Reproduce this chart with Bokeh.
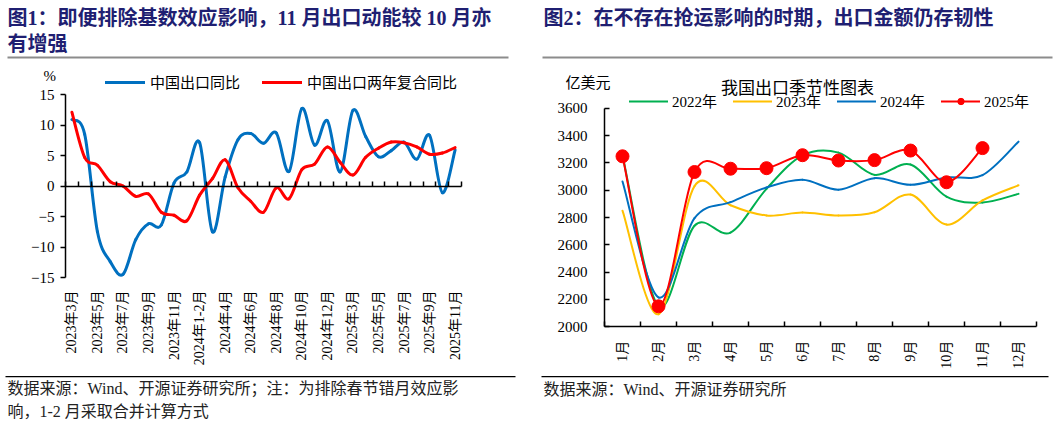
import math
import numpy as np
from bokeh.plotting import figure
from bokeh.models import (Range1d, FixedTicker, LinearAxis, Legend, LegendItem,
                          Label, BoxAnnotation, ColumnDataSource)
from bokeh.layouts import row
from bokeh.embed import file_html
from bokeh.resources import INLINE

# ---------------- data: figure 1 ----------------
months_1 = ["2023年3月", "2023年4月", "2023年5月", "2023年6月", "2023年7月", "2023年8月",
            "2023年9月", "2023年10月", "2023年11月", "2023年12月", "2024年1-2月", "2024年3月",
            "2024年4月", "2024年5月", "2024年6月", "2024年7月", "2024年8月", "2024年9月",
            "2024年10月", "2024年11月", "2024年12月", "2025年1-2月", "2025年3月", "2025年4月",
            "2025年5月", "2025年6月", "2025年7月", "2025年8月", "2025年9月", "2025年10月",
            "2025年11月"]
export_yoy = [10.9, 8.5, -7.5, -12.4, -14.5, -8.8, -6.2, -6.4, 0.5, 2.3, 7.1, -7.5,
              1.5, 7.6, 8.6, 7.0, 8.7, 2.4, 12.7, 6.7, 10.7, 2.3, 12.4, 8.1,
              4.8, 5.8, 7.2, 4.4, 8.3, -1.1, 5.9]
export_2y = [12.1, 4.7, 3.4, 0.7, 0.0, -1.7, -1.3, -4.3, -4.8, -5.7, -1.5, 1.2,
             4.3, -0.3, -2.5, -4.3, -0.3, -2.1, 2.7, 3.6, 6.4, 3.9, 1.8, 4.7,
             6.2, 7.2, 7.1, 6.4, 5.2, 5.4, 6.3]
series_1 = ["中国出口同比", "中国出口两年复合同比"]
y_ticks_1 = [-15, -10, -5, 0, 5, 10, 15]

# ---------------- data: figure 2 ----------------
months_2 = ["1月", "2月", "3月", "4月", "5月", "6月", "7月", "8月", "9月", "10月", "11月", "12月"]
exp_2022 = [3255, 2150, 2740, 2690, 3010, 3255, 3275, 3112, 3188, 2952, 2910, 2973]
exp_2023 = [2850, 2092, 3030, 2890, 2815, 2836, 2814, 2838, 2968, 2748, 2925, 3036]
exp_2024 = [3063, 2215, 2795, 2912, 3020, 3076, 3004, 3088, 3039, 3093, 3110, 3355]
exp_2025 = [3248, 2150, 3133, 3157, 3161, 3256, 3217, 3220, 3290, 3058, 3308]
series_2 = ["2022年", "2023年", "2024年", "2025年"]
y_ticks_2 = [2000, 2200, 2400, 2600, 2800, 3000, 3200, 3400, 3600]

# ---------------- styles / layout ----------------
SERIF = "'Liberation Serif', 'Noto Sans CJK SC'"
CJK = "'Noto Sans CJK SC'"
TITLE_COLOR = "#1f1f72"
BLUE, RED, GREEN, YELLOW = "#0070C0", "#FF0000", "#00B050", "#FFC000"
H = 426
W1, W2 = 530, 527
# plot areas in pixels inside each canvas (left, right, top, bottom)
AREA1 = (65, 461, 94, 277)
AREA2 = (74, 506, 107.7, 326.3)


def span_range(lo, hi, p_lo, p_hi, size, flip=False):
    """Extend a data range so that [lo, hi] lands on pixels [p_lo, p_hi] of a canvas of `size`."""
    k = (hi - lo) / (p_hi - p_lo)
    if flip:  # vertical: pixel grows downward, value grows upward
        return Range1d(lo - (size - p_hi) * k, hi + p_lo * k)
    return Range1d(lo - p_lo * k, hi + (size - p_hi) * k)


def smooth(xs, ys):
    """Catmull-Rom style cubic Bezier control points (spreadsheet-like smoothed line)."""
    xs = np.asarray(xs, float)
    ys = np.asarray(ys, float)
    n = len(xs)
    xp = np.concatenate([[xs[0]], xs, [xs[-1]]])
    yp = np.concatenate([[ys[0]], ys, [ys[-1]]])
    return dict(
        x0=xs[:-1], y0=ys[:-1], x1=xs[1:], y1=ys[1:],
        cx0=xs[:-1] + (xp[2:n + 1] - xp[0:n - 1]) / 6.0,
        cy0=ys[:-1] + (yp[2:n + 1] - yp[0:n - 1]) / 6.0,
        cx1=xs[1:] - (xp[3:n + 2] - xp[1:n]) / 6.0,
        cy1=ys[1:] - (yp[3:n + 2] - yp[1:n]) / 6.0,
    )


def bez(p, xs, ys, color, width):
    src = ColumnDataSource(smooth(xs, ys))
    return p.bezier(x0="x0", y0="y0", x1="x1", y1="y1", cx0="cx0", cy0="cy0",
                    cx1="cx1", cy1="cy1", source=src, line_color=color,
                    line_width=width, line_cap="round", line_join="round")


def text_at(p, text, x, y, size, font, color="#222222", bold=False, align="left"):
    # x, y: pixels from the top-left corner of this canvas (screen units are bottom-up)
    p.add_layout(Label(x=x, y=H - y, x_units="screen", y_units="screen", text=text,
                       text_font=font, text_font_size=size, text_color=color,
                       text_font_style="bold" if bold else "normal",
                       text_align=align, text_baseline="middle"))


def rule_at(p, left, right, top, bottom, color):
    p.add_layout(BoxAnnotation(left=left, right=right, top=H - top, bottom=H - bottom,
                               left_units="screen", right_units="screen",
                               top_units="screen", bottom_units="screen",
                               fill_color=color, fill_alpha=1.0, line_color=None,
                               line_alpha=0))


def base_fig(width, x_range, y_range):
    p = figure(width=width, height=H, output_backend="svg", toolbar_location=None,
               x_range=x_range, y_range=y_range, x_axis_location=None, y_axis_location=None,
               min_border=0, min_border_left=0, min_border_right=0,
               min_border_top=0, min_border_bottom=0)
    p.title.visible = False
    p.outline_line_color = None
    p.grid.visible = False
    p.background_fill_color = "white"
    p.border_fill_color = "white"
    return p


# ================= Figure 1 =================
n1 = len(months_1)
x_1 = list(range(n1))
xr1 = span_range(-0.5, n1 - 0.5, AREA1[0], AREA1[1], W1)
yr1 = span_range(y_ticks_1[0], y_ticks_1[-1], AREA1[2], AREA1[3], H, flip=True)
p1 = base_fig(W1, xr1, yr1)

yax1 = LinearAxis(fixed_location=-0.5, bounds=(y_ticks_1[0], y_ticks_1[-1]),
                  ticker=FixedTicker(ticks=y_ticks_1), major_tick_in=0, major_tick_out=5,
                  minor_tick_line_color=None, axis_line_width=1.5, axis_line_color="#000000",
                  major_tick_line_width=1.5, major_tick_line_color="#000000",
                  major_label_text_font=SERIF, major_label_text_font_size="15px",
                  major_label_text_color="#000000", major_label_standoff=6)
p1.add_layout(yax1, "left")

bounds_1 = [i - 0.5 for i in range(n1 + 1)]
zax1 = LinearAxis(fixed_location=0, bounds=(-0.5, n1 - 0.5),
                  ticker=FixedTicker(ticks=[], minor_ticks=bounds_1),
                  major_tick_line_color=None, minor_tick_in=5, minor_tick_out=0,
                  minor_tick_line_width=1.5, minor_tick_line_color="#000000",
                  axis_line_width=1.5, axis_line_color="#000000",
                  major_label_text_font_size="0px")
p1.add_layout(zax1, "below")

lab_idx = list(range(0, n1, 2))
lax1 = LinearAxis(fixed_location=y_ticks_1[0], ticker=FixedTicker(ticks=lab_idx),
                  major_label_overrides={i: months_1[i] for i in lab_idx},
                  axis_line_color=None, major_tick_line_color=None, minor_tick_line_color=None,
                  major_label_orientation=math.pi / 2, major_label_standoff=7,
                  major_label_text_font=SERIF, major_label_text_font_size="14px",
                  major_label_text_color="#000000")
p1.add_layout(lax1, "below")

r_blue = bez(p1, x_1, export_yoy, BLUE, 3)
r_red = bez(p1, x_1, export_2y, RED, 3)

leg1 = Legend(items=[LegendItem(label=series_1[0], renderers=[r_blue]),
                     LegendItem(label=series_1[1], renderers=[r_red])],
              location=(105, H - 92), orientation="horizontal", glyph_width=40, glyph_height=16,
              label_height=16, label_standoff=5, spacing=22, padding=0, margin=0,
              border_line_color=None, background_fill_alpha=0,
              label_text_font=CJK, label_text_font_size="15px", label_text_color="#000000")
p1.add_layout(leg1, "center")

text_at(p1, "%", 43, 75, "15px", SERIF, "#000000")
text_at(p1, "图1：即便排除基数效应影响，11 月出口动能较 10 月亦", 7, 17, "20px", SERIF, TITLE_COLOR, bold=True)
text_at(p1, "有增强", 7, 43, "20px", SERIF, TITLE_COLOR, bold=True)
rule_at(p1, 7, 508, 56, 58, "#8c8c8c")
rule_at(p1, 5, 515, 375.5, 376.7, "#000000")
text_at(p1, "数据来源：Wind、开源证券研究所；注：为排除春节错月效应影", 7, 388, "16px", SERIF, "#222222")
text_at(p1, "响，1-2 月采取合并计算方式", 7, 411, "16px", SERIF, "#222222")

# ================= Figure 2 =================
n2 = len(months_2)
x_2 = list(range(n2))
xr2 = span_range(-0.5, n2 - 0.5, AREA2[0], AREA2[1], W2)
yr2 = span_range(y_ticks_2[0], y_ticks_2[-1], AREA2[2], AREA2[3], H, flip=True)
p2 = base_fig(W2, xr2, yr2)

yax2 = LinearAxis(fixed_location=-0.5, bounds=(y_ticks_2[0], y_ticks_2[-1]),
                  ticker=FixedTicker(ticks=y_ticks_2), major_tick_in=5, major_tick_out=0,
                  minor_tick_line_color=None, axis_line_width=1.5, axis_line_color="#000000",
                  major_tick_line_width=1.5, major_tick_line_color="#000000",
                  major_label_text_font=SERIF, major_label_text_font_size="15px",
                  major_label_text_color="#000000", major_label_standoff=17)
p2.add_layout(yax2, "left")

bounds_2 = [i - 0.5 for i in range(n2 + 1)]
xax2 = LinearAxis(fixed_location=y_ticks_2[0], bounds=(-0.5, n2 - 0.5),
                  ticker=FixedTicker(ticks=x_2, minor_ticks=bounds_2),
                  major_label_overrides={i: months_2[i] for i in x_2},
                  major_tick_line_color=None, minor_tick_in=5, minor_tick_out=0,
                  minor_tick_line_width=1.5, minor_tick_line_color="#000000",
                  axis_line_width=1.5, axis_line_color="#000000",
                  major_label_orientation=math.pi / 2, major_label_standoff=8,
                  major_label_text_font=SERIF, major_label_text_font_size="14px",
                  major_label_text_color="#000000")
p2.add_layout(xax2, "below")

r22 = bez(p2, x_2, exp_2022, GREEN, 2)
r23 = bez(p2, x_2, exp_2023, YELLOW, 2)
r24 = bez(p2, x_2, exp_2024, BLUE, 2)
r25 = bez(p2, x_2[:len(exp_2025)], exp_2025, RED, 2)
r25m = p2.scatter(x_2[:len(exp_2025)], exp_2025, size=13, fill_color=RED, line_color=RED)

leg2 = Legend(items=[LegendItem(label=series_2[0], renderers=[r22]),
                     LegendItem(label=series_2[1], renderers=[r23]),
                     LegendItem(label=series_2[2], renderers=[r24]),
                     LegendItem(label=series_2[3], renderers=[r25, r25m])],
              location=(99, H - 111), orientation="horizontal", glyph_width=39, glyph_height=16,
              label_height=16, label_standoff=4, spacing=16, padding=0, margin=0,
              border_line_color=None, background_fill_alpha=0,
              label_text_font=SERIF, label_text_font_size="15px", label_text_color="#000000")
p2.add_layout(leg2, "center")

text_at(p2, "亿美元", 35, 81, "15px", CJK, "#000000")
text_at(p2, "我国出口季节性图表", 267, 86, "17px", CJK, "#000000", align="center")
text_at(p2, "图2：在不存在抢运影响的时期，出口金额仍存韧性", 13, 17, "20px", SERIF, TITLE_COLOR, bold=True)
rule_at(p2, 12, 522, 56, 58, "#8c8c8c")
rule_at(p2, 11, 518, 375.5, 376.7, "#000000")
text_at(p2, "数据来源：Wind、开源证券研究所", 13, 389, "16px", SERIF, "#222222")

layout = row(p1, p2, spacing=0)
open("out.html", "w").write(file_html(layout, INLINE))
